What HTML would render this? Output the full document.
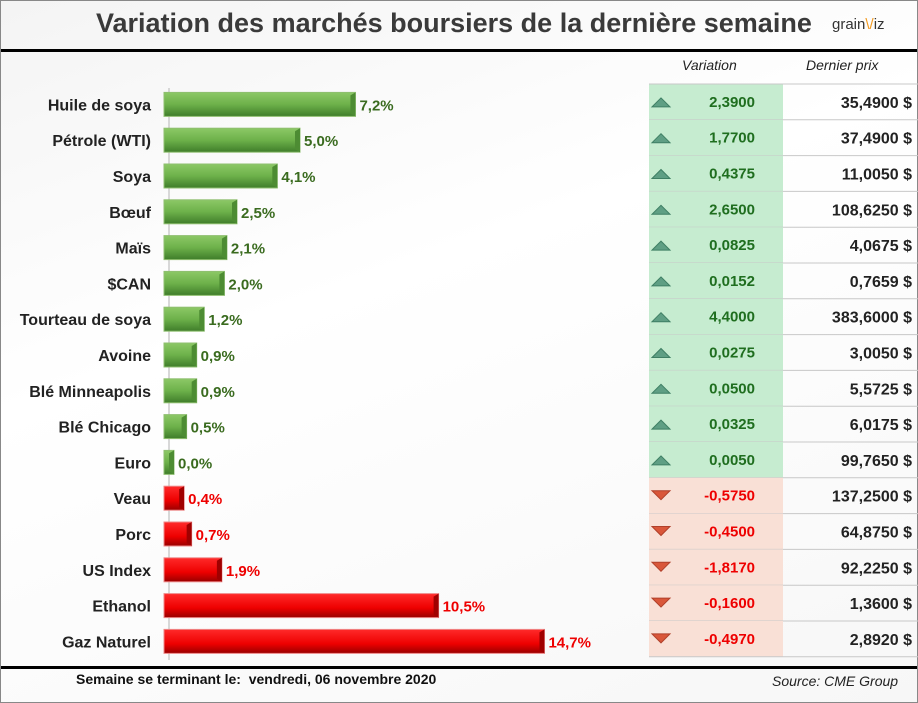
<!DOCTYPE html>
<html><head><meta charset="utf-8"><style>
body{margin:0;width:918px;height:703px;overflow:hidden;background:#fff;font-family:"Liberation Sans",sans-serif}
#frame{position:absolute;left:0;top:0;width:916px;height:701px;border:1px solid #888;background:linear-gradient(160deg,#f4f4f4 0%,#fff 40%,#f7f7f7 100%)}
.t{position:absolute;white-space:nowrap}
</style></head><body>
<div id="frame"></div>
<div class="t" style="left:96px;top:8px;font-size:27px;font-weight:bold;color:#3a3a3a;letter-spacing:0px">Variation des marchés boursiers de la dernière semaine</div>
<div class="t" style="left:832px;top:16px;font-size:15px;color:#333">grain<span style="color:#f39a1e">\/</span>iz</div>
<div style="position:absolute;left:1px;top:49px;width:916px;height:3px;background:#000"></div>
<div class="t" style="left:682px;top:57px;font-size:14px;font-style:italic;color:#222">Variation</div>
<div class="t" style="left:806px;top:57px;font-size:14px;font-style:italic;color:#222">Dernier prix</div>
<svg id="chart" width="918" height="703" style="position:absolute;left:0;top:0">
<defs>
<linearGradient id="gg" x1="0" y1="0" x2="0" y2="1"><stop offset="0" stop-color="#8cc866"/><stop offset="0.5" stop-color="#6db14a"/><stop offset="1" stop-color="#3f7d2a"/></linearGradient>
<linearGradient id="rg" x1="0" y1="0" x2="0" y2="1"><stop offset="0" stop-color="#ff2a2a"/><stop offset="0.6" stop-color="#ee0000"/><stop offset="1" stop-color="#990000"/></linearGradient>
</defs>
<line x1="169" y1="88" x2="169" y2="660" stroke="#ccc" stroke-width="1.5"/>
</svg>
<div class="t" style="left:1px;top:666px;width:916px;height:3px;background:#000"></div>
<div class="t" style="left:76px;top:671px;font-size:14px;font-weight:bold;color:#111">Semaine se terminant le:&nbsp; vendredi, 06 novembre 2020</div>
<div class="t" style="left:772px;top:673px;font-size:14px;font-style:italic;color:#222">Source: CME Group</div>
<script>
const categories=["Huile de soya","Pétrole (WTI)","Soya","Bœuf","Maïs","$CAN","Tourteau de soya","Avoine","Blé Minneapolis","Blé Chicago","Euro","Veau","Porc","US Index","Ethanol","Gaz Naturel"];
const pctValues=[7.2,5.0,4.1,2.5,2.1,2.0,1.2,0.9,0.9,0.5,0.0,-0.4,-0.7,-1.9,-10.5,-14.7];
const variations=["2,3900","1,7700","0,4375","2,6500","0,0825","0,0152","4,4000","0,0275","0,0500","0,0325","0,0050","-0,5750","-0,4500","-1,8170","-0,1600","-0,4970"];
const prices=["35,4900 $","37,4900 $","11,0050 $","108,6250 $","4,0675 $","0,7659 $","383,6000 $","3,0050 $","5,5725 $","6,0175 $","99,7650 $","137,2500 $","64,8750 $","92,2250 $","1,3600 $","2,8920 $"];
const svg=document.getElementById('chart');const NS='http://www.w3.org/2000/svg';
const x0=164,scale=25.2,depth=10,rowTop=84,rowH=35.8;
const xs=v=>x0+depth+Math.abs(v)*scale;
const yc=i=>rowTop+rowH*(i+0.5);
function mk(tag,attrs){const e=document.createElementNS(NS,tag);for(const k in attrs)e.setAttribute(k,attrs[k]);svg.appendChild(e);return e;}
categories.forEach((c,i)=>{
 const v=pctValues[i],pos=v>=0,yr=yc(i),y=yr+2.5,x1=xs(v);
 const lab=mk('text',{x:151,y:y+6,'text-anchor':'end','font-size':16,'font-weight':'bold',fill:'#222','font-family':'Liberation Sans'});lab.textContent=c;
 
 
 const b=mk('rect',{x:x0,y:y-12,width:x1-x0,height:24,fill:pos?'url(#gg)':'url(#rg)',stroke:pos?'#8fbf70':'#e88',"stroke-width":1});
 
 
 mk('polygon',{points:`${x1-5},${y-9} ${x1},${y-12} ${x1},${y+12} ${x1-5},${y+9}`,fill:pos?'#4d8c33':'#a00000'});
 const vl=mk('text',{x:x1+4,y:y+6,'font-size':15,'font-weight':'bold',fill:pos?'#3a6b1f':'#ee0000','font-family':'Liberation Sans'});
 vl.textContent=Math.abs(v).toFixed(1).replace('.',',')+'%';
 
 
 const up=!variations[i].startsWith('-'),top=rowTop+rowH*i;
 const cell=mk('rect',{x:649,y:top,width:134,height:rowH,fill:up?'#c6ecd0':'#f9e0d6'});
 
 
 mk('line',{x1:649,y1:top+rowH,x2:918,y2:top+rowH,stroke:'#c8c8c8'});
 if(up)mk('polygon',{points:`${652},${yr+5} ${670},${yr+5} ${661},${yr-4}`,fill:'#5f9f84',stroke:'#3f7f64'});
 else mk('polygon',{points:`${652},${yr-5} ${670},${yr-5} ${661},${yr+4}`,fill:'#d9573a',stroke:'#b0402a'});
 const vt=mk('text',{x:755,y:yr+5,'text-anchor':'end','font-size':15,'font-weight':'bold',fill:up?'#1f6e1f':'#ee0000','font-family':'Liberation Sans'});vt.textContent=variations[i];
 
 
 const pt=mk('text',{x:912,y:yr+6,'text-anchor':'end','font-size':16,'font-weight':'bold',fill:'#222','font-family':'Liberation Sans'});pt.textContent=prices[i];
 
 
});
mk('line',{x1:649,y1:rowTop,x2:918,y2:rowTop,stroke:'#c8c8c8'});
</script>
</body></html>
